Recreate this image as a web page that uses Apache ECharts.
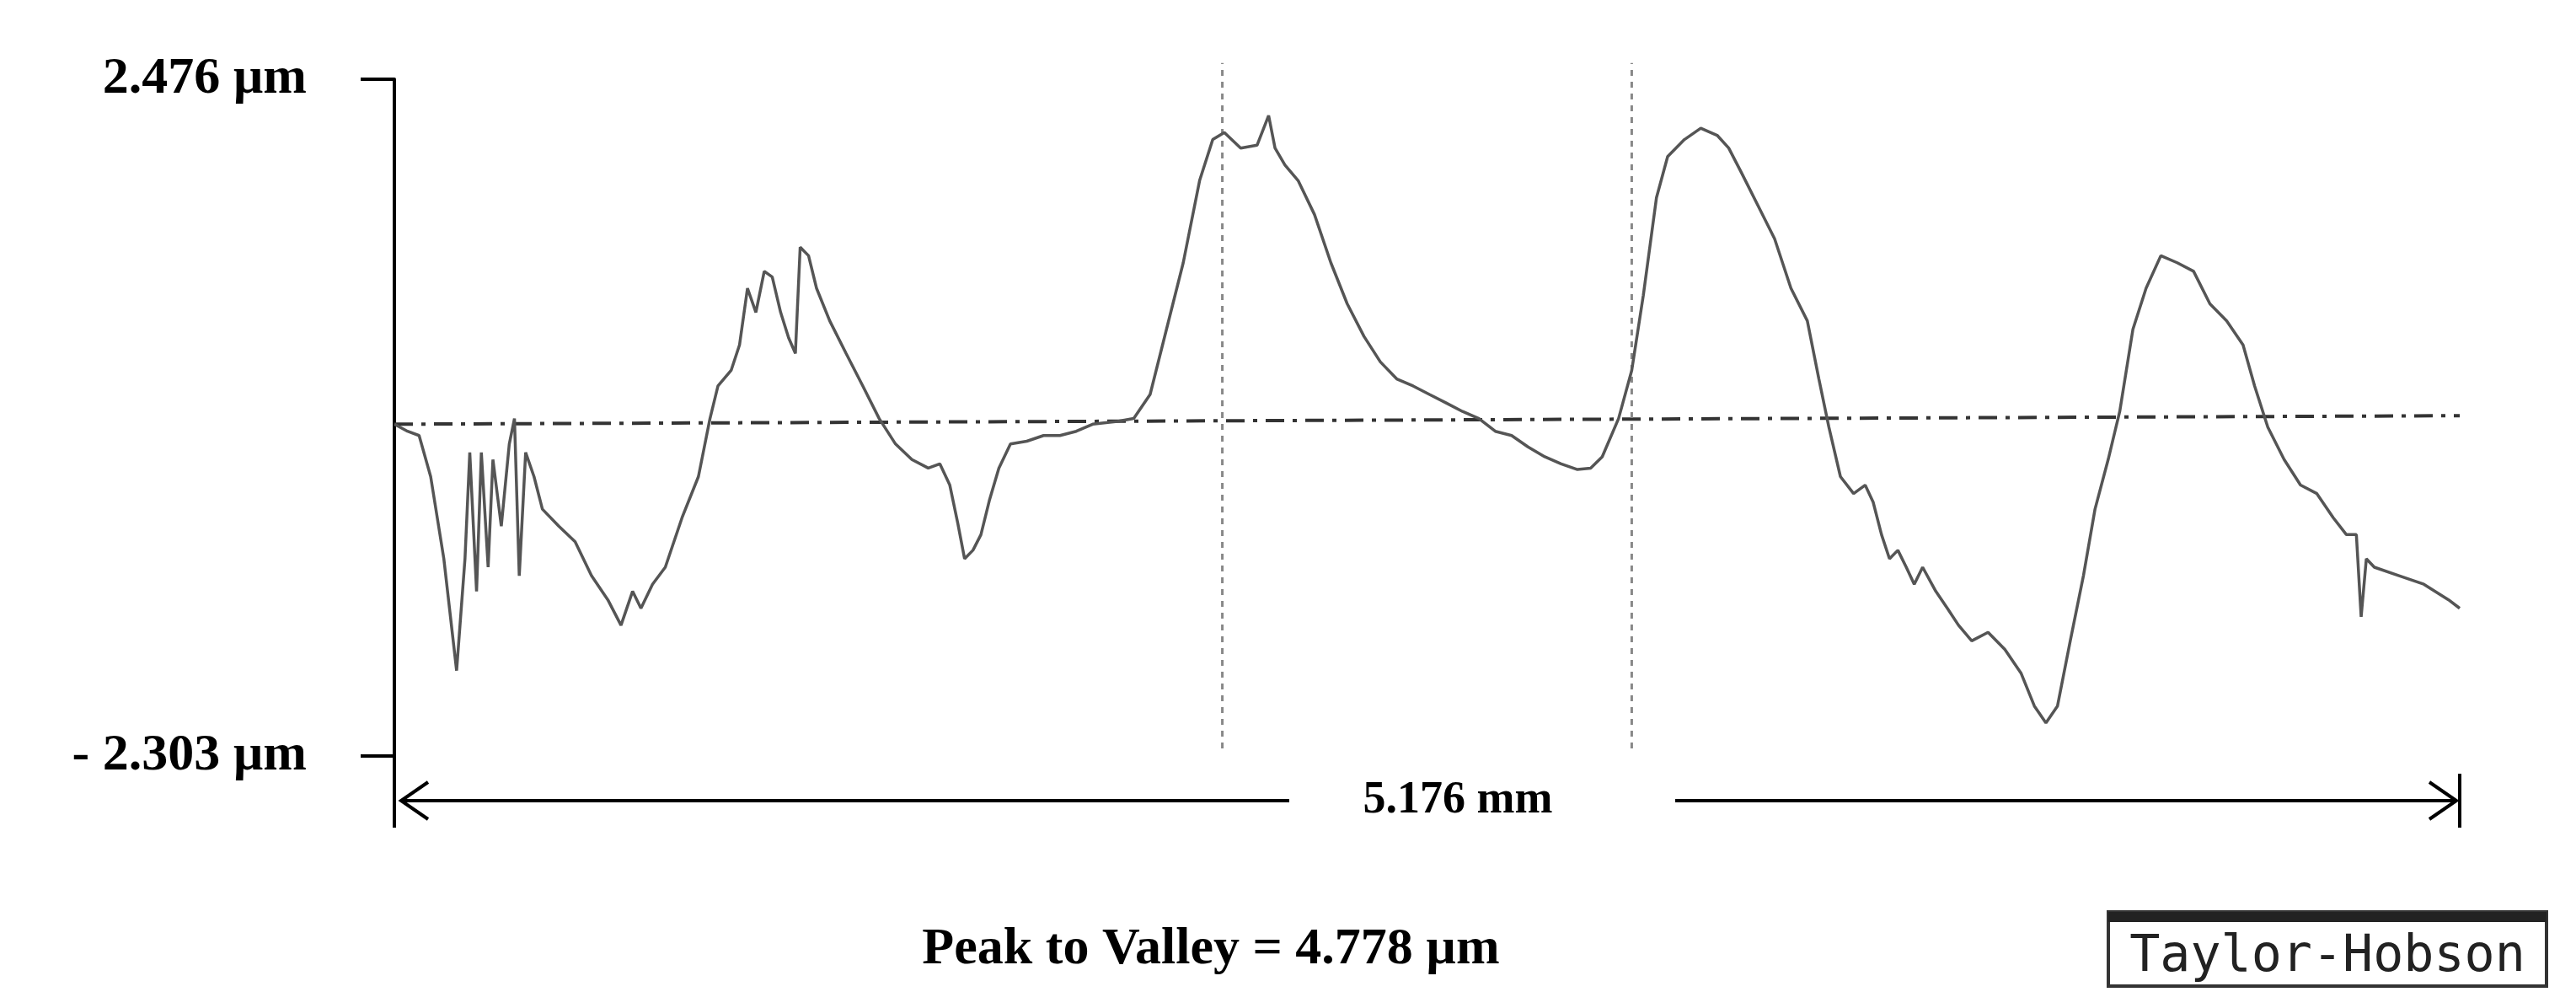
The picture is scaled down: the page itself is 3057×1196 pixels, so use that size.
<!DOCTYPE html>
<html>
<head>
<meta charset="utf-8">
<script src="https://cdn.jsdelivr.net/npm/echarts@6/dist/echarts.min.js"></script>
<style>html,body{margin:0;padding:0;background:#fff}#chart{width:3057px;height:1196px}</style>
</head>
<body>
<div id="chart"></div>
<script>
// profile trace: position along the sample (mm) and height (µm)
const posMm = [0, 0.033, 0.062, 0.091, 0.124, 0.156, 0.177, 0.189, 0.206, 0.218, 0.235, 0.247, 0.268, 0.288, 0.301, 0.313, 0.329, 0.350, 0.371, 0.412, 0.453, 0.494, 0.535, 0.568, 0.597, 0.618, 0.647, 0.679, 0.721, 0.762, 0.791, 0.811, 0.844, 0.865, 0.885, 0.906, 0.927, 0.947, 0.968, 0.988, 1.005, 1.017, 1.038, 1.058, 1.091, 1.132, 1.174, 1.215, 1.256, 1.297, 1.338, 1.367, 1.392, 1.412, 1.429, 1.450, 1.470, 1.491, 1.515, 1.544, 1.585, 1.627, 1.668, 1.709, 1.750, 1.812, 1.853, 1.894, 1.935, 1.977, 2.018, 2.051, 2.080, 2.121, 2.162, 2.191, 2.207, 2.232, 2.265, 2.306, 2.347, 2.388, 2.430, 2.471, 2.512, 2.553, 2.594, 2.636, 2.677, 2.718, 2.759, 2.800, 2.841, 2.883, 2.924, 2.965, 2.998, 3.027, 3.068, 3.101, 3.130, 3.163, 3.191, 3.233, 3.274, 3.315, 3.344, 3.377, 3.418, 3.459, 3.500, 3.541, 3.570, 3.595, 3.624, 3.657, 3.686, 3.706, 3.727, 3.747, 3.768, 3.789, 3.809, 3.830, 3.863, 3.892, 3.920, 3.953, 3.994, 4.036, 4.077, 4.110, 4.139, 4.168, 4.200, 4.233, 4.262, 4.295, 4.324, 4.357, 4.390, 4.427, 4.468, 4.509, 4.550, 4.592, 4.633, 4.662, 4.695, 4.736, 4.777, 4.818, 4.859, 4.892, 4.917, 4.929, 4.942, 4.962, 5.024, 5.086, 5.148, 5.176];
const heightUm = [0.04, -0.01, -0.04, -0.33, -0.91, -1.70, -0.91, -0.16, -1.14, -0.16, -0.97, -0.21, -0.68, -0.10, 0.08, -1.03, -0.16, -0.33, -0.56, -0.68, -0.79, -1.03, -1.20, -1.38, -1.14, -1.26, -1.09, -0.97, -0.62, -0.33, 0.08, 0.31, 0.42, 0.60, 1.00, 0.83, 1.12, 1.08, 0.83, 0.65, 0.54, 1.29, 1.23, 1.00, 0.77, 0.54, 0.31, 0.08, -0.10, -0.21, -0.27, -0.24, -0.39, -0.66, -0.91, -0.85, -0.74, -0.50, -0.27, -0.10, -0.08, -0.04, -0.04, -0.01, 0.04, 0.06, 0.08, 0.25, 0.71, 1.18, 1.76, 2.05, 2.10, 1.99, 2.01, 2.22, 1.99, 1.87, 1.76, 1.52, 1.18, 0.89, 0.66, 0.48, 0.36, 0.31, 0.25, 0.19, 0.13, 0.08, -0.01, -0.04, -0.12, -0.19, -0.24, -0.28, -0.27, -0.19, 0.08, 0.42, 0.95, 1.64, 1.93, 2.05, 2.13, 2.08, 1.99, 1.81, 1.58, 1.35, 1.00, 0.77, 0.36, 0.02, -0.33, -0.45, -0.39, -0.51, -0.74, -0.91, -0.85, -0.97, -1.09, -0.97, -1.14, -1.26, -1.38, -1.49, -1.43, -1.55, -1.72, -1.95, -2.07, -1.95, -1.49, -1.03, -0.56, -0.21, 0.13, 0.71, 1.00, 1.23, 1.18, 1.12, 0.89, 0.77, 0.60, 0.31, 0.02, -0.21, -0.39, -0.45, -0.62, -0.74, -0.74, -1.32, -0.91, -0.97, -1.03, -1.09, -1.20, -1.26];
const yMax = 2.476;
const yMin = -2.303;
const lengthMm = 5.176;
const meanLine = [[0, 0.04], [5.176, 0.10]];
const cursorPos = [2.075, 3.101];
const cursorRange = [-2.25, 2.59];
const peakToValley = 4.778;

const trace = posMm.map((x, i) => [x, heightUm[i]]);
const serif = '"Liberation Serif", "DejaVu Serif", serif';

const chart = echarts.init(document.getElementById('chart'));
const cursorSeries = cursorPos.map(x => ({
    type: 'line', clip: false, symbol: 'none', silent: true,
    data: [[x, cursorRange[0]], [x, cursorRange[1]]],
    lineStyle: {color: '#888', width: 3, type: [7, 7]}
}));
chart.setOption({
    animation: false,
    grid: {left: 468, right: 138, top: 94, bottom: 299},
    xAxis: {type: 'value', min: 0, max: lengthMm, show: false},
    yAxis: {
        type: 'value', min: yMin, max: yMax, interval: yMax - yMin,
        splitLine: {show: false},
        axisLine: {show: true, lineStyle: {color: '#000', width: 4}},
        axisTick: {show: true, length: 40, lineStyle: {color: '#000', width: 4}},
        axisLabel: {
            margin: 104, color: '#000', fontFamily: serif, fontWeight: 'bold', fontSize: 62,
            formatter: v => (v < 0 ? '- ' + Math.abs(v).toFixed(3) : v.toFixed(3)) + ' µm'
        }
    },
    series: [
        {
            type: 'line', data: meanLine, symbol: 'none', silent: true,
            lineStyle: {color: '#333', width: 4, type: [22, 10, 5, 10]}
        },
        ...cursorSeries,
        {
            type: 'line', data: trace, symbol: 'none',
            lineStyle: {color: '#555', width: 3.5}
        }
    ]
});

const p0 = chart.convertToPixel({gridIndex: 0}, [0, yMin]);
const p1 = chart.convertToPixel({gridIndex: 0}, [lengthMm, yMin]);
const arrowY = p0[1] + 53;
const midX = 1730;
const arrowHead = (x, dir) => ({
    type: 'polyline',
    shape: {points: [[x + dir * 32, arrowY - 22], [x, arrowY], [x + dir * 32, arrowY + 22]]},
    style: {stroke: '#000', lineWidth: 4, fill: null}
});
chart.setOption({
    graphic: [
        {type: 'line', shape: {x1: p0[0], y1: p0[1], x2: p0[0], y2: arrowY + 32}, style: {stroke: '#000', lineWidth: 4}},
        {type: 'line', shape: {x1: p1[0], y1: arrowY - 32, x2: p1[0], y2: arrowY + 32}, style: {stroke: '#000', lineWidth: 4}},
        {type: 'line', shape: {x1: p0[0] + 8, y1: arrowY, x2: midX - 200, y2: arrowY}, style: {stroke: '#000', lineWidth: 4}},
        {type: 'line', shape: {x1: midX + 258, y1: arrowY, x2: p1[0] - 4, y2: arrowY}, style: {stroke: '#000', lineWidth: 4}},
        arrowHead(p0[0] + 8, 1),
        arrowHead(p1[0] - 4, -1),
        {
            type: 'text', x: midX, y: arrowY,
            style: {text: lengthMm.toFixed(3) + ' mm', font: 'bold 54px ' + serif, fill: '#000', align: 'center', verticalAlign: 'middle'}
        },
        {
            type: 'text', x: 1437, y: 1127,
            style: {text: 'Peak to Valley = ' + peakToValley.toFixed(3) + ' µm', font: 'bold 62px ' + serif, fill: '#000', align: 'center', verticalAlign: 'middle'}
        },
        {type: 'rect', shape: {x: 2502, y: 1082, width: 520, height: 88}, style: {fill: '#fff', stroke: '#333', lineWidth: 4}},
        {type: 'rect', shape: {x: 2502, y: 1082, width: 520, height: 12}, style: {fill: '#222'}},
        {
            type: 'text', x: 2762, y: 1136,
            style: {text: 'Taylor-Hobson', font: '60px "DejaVu Sans Mono", "Liberation Mono", monospace', fill: '#222', align: 'center', verticalAlign: 'middle'}
        }
    ]
});
</script>
</body>
</html>
